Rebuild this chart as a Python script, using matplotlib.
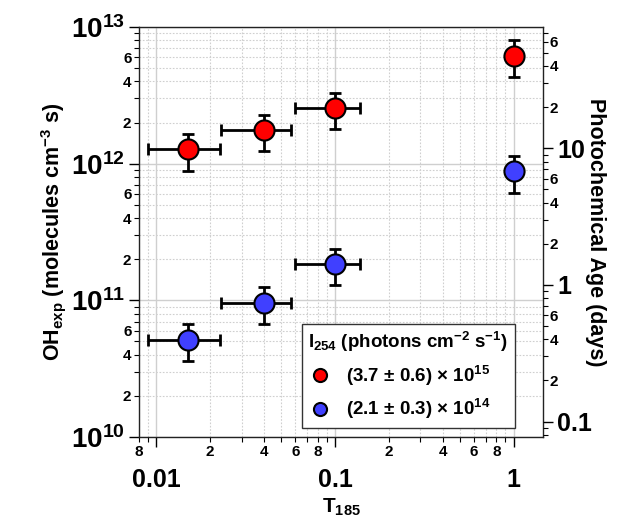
import numpy as np
import matplotlib
matplotlib.use("Agg")
import matplotlib.pyplot as plt
from matplotlib.ticker import LogLocator, FuncFormatter

plt.rcParams['font.family'] = ['Liberation Sans', 'DejaVu Sans']
plt.rcParams['font.weight'] = 'bold'
plt.rcParams['axes.labelweight'] = 'bold'
plt.rcParams['mathtext.fontset'] = 'custom'
plt.rcParams['mathtext.rm'] = 'Liberation Sans:bold'
plt.rcParams['mathtext.it'] = 'Liberation Sans:bold'
plt.rcParams['mathtext.bf'] = 'Liberation Sans:bold'
plt.rcParams['mathtext.default'] = 'regular'

# ---- data ----
t185 = [0.015, 0.04, 0.10, 1.0]
t185_lo = [0.00904, 0.0231, 0.060, 1.0]
t185_hi = [0.0226, 0.0564, 0.138, 1.0]

oh_red = [1.29e12, 1.77e12, 2.54e12, 6.18e12]
oh_red_lo = [0.89e12, 1.23e12, 1.80e12, 4.32e12]
oh_red_hi = [1.66e12, 2.28e12, 3.30e12, 7.97e12]

oh_blue = [5.15e10, 9.62e10, 1.83e11, 8.78e11]
oh_blue_lo = [3.60e10, 6.74e10, 1.30e11, 6.14e11]
oh_blue_hi = [6.67e10, 1.245e11, 2.36e11, 1.13e12]

legend_title = r'I$_{254}$ (photons cm$^{-2}$ s$^{-1}$)'
label_red = r'(3.7 ± 0.6) × 10$^{15}$'
label_blue = r'(2.1 ± 0.3) × 10$^{14}$'
OH_PER_DAY = 1.5e6 * 86400.0

fig = plt.figure(figsize=(6.22, 5.22), dpi=100)
ax = fig.add_axes([0.2235, 0.1628, 0.6495, 0.7855])
ax.set_xscale('log')
ax.set_yscale('log')
ax.set_xlim(0.008, 1.46)
ax.set_ylim(1e10, 1e13)

def draw(y, lo, hi, color, label):
    x = np.array(t185); y = np.array(y)
    xerr = [x - np.array(t185_lo), np.array(t185_hi) - x]
    yerr = [y - np.array(lo), np.array(hi) - y]
    ax.errorbar(x, y, xerr=xerr, yerr=yerr, fmt='none', ecolor='black',
                elinewidth=2.0, capsize=4, capthick=2.0, zorder=3)
    ax.plot(x, y, 'o', ms=14.5, mfc=color, mec='black', mew=1.5, zorder=4,
            label=label, linestyle='none')

draw(oh_red, oh_red_lo, oh_red_hi, '#ff0000', label_red)
draw(oh_blue, oh_blue_lo, oh_blue_hi, '#4040ff', label_blue)

# grid
ax.grid(True, which='major', color='#cfcfcf', lw=1.0, ls='-', zorder=0)
ax.grid(True, which='minor', color='#cfcfcf', lw=0.8, ls=(0, (1.5, 1.5)), zorder=0)
ax.set_axisbelow(True)

def major_fmt_sci(v, pos):
    e = int(round(np.log10(v)))
    return r'$10^{%d}$' % e

def minor_fmt(allowed):
    def f(v, pos):
        e = np.floor(np.log10(v) + 1e-9)
        m = int(round(v / 10**e))
        return str(m) if m in allowed else ''
    return f

def major_fmt_plain(v, pos):
    if v >= 1:
        return '%d' % round(v)
    return ('%g' % v)

ax.yaxis.set_major_locator(LogLocator(base=10, numticks=20))
ax.yaxis.set_minor_locator(LogLocator(base=10, subs=np.arange(2, 10), numticks=20))
ax.yaxis.set_major_formatter(FuncFormatter(major_fmt_sci))
ax.yaxis.set_minor_formatter(FuncFormatter(minor_fmt({2, 4, 6})))

ax.xaxis.set_major_locator(LogLocator(base=10, numticks=20))
ax.xaxis.set_minor_locator(LogLocator(base=10, subs=np.arange(2, 10), numticks=20))
ax.xaxis.set_major_formatter(FuncFormatter(major_fmt_plain))
ax.xaxis.set_minor_formatter(FuncFormatter(minor_fmt({2, 4, 6, 8})))

ax.tick_params(axis='y', which='major', length=7, width=1.0, direction='out', labelsize=20, pad=3)
ax.tick_params(axis='x', which='major', length=7, width=1.0, direction='out', labelsize=18, pad=15)
ax.tick_params(axis='both', which='minor', length=3.5, width=0.8, direction='out', labelsize=11)
ax.tick_params(axis='x', which='minor', pad=2)
ax.tick_params(axis='y', which='minor', pad=2)
ax.tick_params(top=False, right=False, which='both')

for s in ax.spines.values():
    s.set_color('#222222')
    s.set_linewidth(1.0)

# right axis
ax2 = ax.twinx()
ax2.set_yscale('log')
ax2.set_ylim(1e10 / OH_PER_DAY, 1e13 / OH_PER_DAY)
ax2.yaxis.set_major_locator(LogLocator(base=10, numticks=20))
ax2.yaxis.set_minor_locator(LogLocator(base=10, subs=np.arange(2, 10), numticks=20))
ax2.yaxis.set_major_formatter(FuncFormatter(major_fmt_plain))
ax2.yaxis.set_minor_formatter(FuncFormatter(minor_fmt({2, 4, 6})))
ax2.tick_params(axis='y', which='major', length=7, width=1.0, labelsize=18, pad=3)
ax2.tick_params(axis='y', which='minor', length=3.5, width=0.8, labelsize=11, pad=1)
for s in ax2.spines.values():
    s.set_visible(False)

ax.set_ylabel(r'OH$_{exp}$ (molecules cm$^{-3}$ s)', fontsize=15.5, labelpad=2)
ax2.set_ylabel('Photochemical Age (days)', fontsize=15.5, rotation=270, labelpad=10)
ax.set_xlabel(r'T$_{185}$', fontsize=15, labelpad=4)

leg = ax.legend(title=legend_title, loc='lower left', bbox_to_anchor=(0.403, 0.022),
                frameon=True, fancybox=False, framealpha=1, edgecolor='#333333',
                fontsize=13.5, title_fontsize=13.5, markerscale=0.65,
                handletextpad=0.8, borderpad=0.35, labelspacing=0.5,
                alignment='left', handlelength=1.2, borderaxespad=0)
leg.get_frame().set_linewidth(1.0)
leg.set_zorder(10)

fig.savefig('out.png', dpi=100)
